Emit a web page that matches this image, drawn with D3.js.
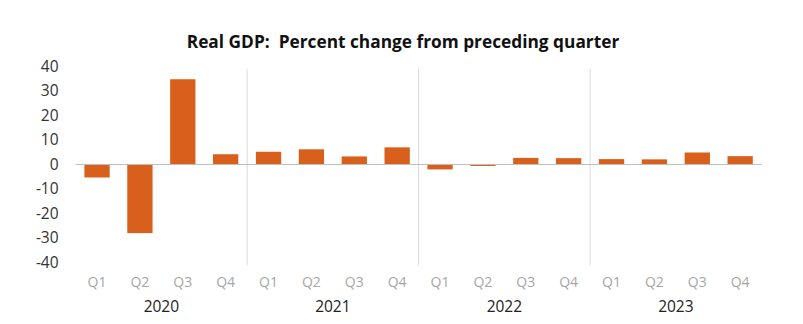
<!DOCTYPE html>
<html>
<head>
<meta charset="utf-8">
<script src="https://cdn.jsdelivr.net/npm/d3@7"></script>
<style>
  body { margin: 0; background: #fff; }
  svg { display: block; font-family: "Open Sans", "Liberation Sans", sans-serif; }
</style>
</head>
<body>
<svg id="chart"></svg>
<script>
var width = 803;
var height = 324;

var years = ['2020', '2021', '2022', '2023'];
var quarters = ['Q1', 'Q2', 'Q3', 'Q4'];
var values = [
  -5.3, -28.0, 34.8, 4.2,
  5.2, 6.2, 3.3, 7.0,
  -2.0, -0.6, 2.7, 2.6,
  2.2, 2.1, 4.9, 3.4
];
var yTicks = [-40, -30, -20, -10, 0, 10, 20, 30, 40];

var barColor = '#d9601c';

var data = values.map(function(v, i){
  return { key: years[Math.floor(i / 4)] + '-' + quarters[i % 4], year: years[Math.floor(i / 4)], q: quarters[i % 4], value: v };
});

var plotLeft = 75.6, plotRight = 761.6, plotTop = 66.5, plotBottom = 262.5;

var svg = d3.select('#chart')
  .attr('width', width)
  .attr('height', height);

var xScale = d3.scaleBand()
  .domain(data.map(d => d.key))
  .range([plotLeft, plotRight])
  .paddingInner(0.41)
  .paddingOuter(0.205);

var yearScale = d3.scaleBand()
  .domain(years)
  .range([plotLeft, plotRight]);

var yScale = d3.scaleLinear()
  .domain([-40, 40])
  .range([plotBottom, plotTop]);

// year separators
svg.append('g')
  .selectAll('line')
  .data(years.slice(1))
  .join('line')
    .attr('x1', d => yearScale(d))
    .attr('x2', d => yearScale(d))
    .attr('y1', plotTop + 2)
    .attr('y2', plotBottom + 3)
    .attr('stroke', '#d9d9d9')
    .attr('stroke-width', 1);

// bars
svg.append('g')
  .selectAll('rect')
  .data(data)
  .join('rect')
    .attr('x', d => xScale(d.key))
    .attr('width', xScale.bandwidth())
    .attr('y', d => yScale(Math.max(0, d.value)))
    .attr('height', d => Math.abs(yScale(d.value) - yScale(0)))
    .attr('fill', barColor);

// zero line
svg.append('line')
  .attr('x1', plotLeft)
  .attr('x2', plotRight)
  .attr('y1', yScale(0))
  .attr('y2', yScale(0))
  .attr('stroke', '#bfbfbf')
  .attr('stroke-width', 1.2);

// y axis labels (plain hyphen for negatives, like the original)
var yAxis = svg.append('g')
  .attr('transform', 'translate(' + (plotLeft - 17) + ',0)')
  .call(d3.axisLeft(yScale).tickValues(yTicks).tickSize(0).tickPadding(0)
          .tickFormat(d => String(d)));
yAxis.select('.domain').remove();
yAxis.selectAll('text')
  .attr('fill', '#333')
  .style('font-size', '15.5px')
  .style('font-family', '"Open Sans", sans-serif');

// quarter labels
var xAxis = svg.append('g')
  .attr('transform', 'translate(0,' + (plotBottom + 12) + ')')
  .call(d3.axisBottom(xScale).tickSize(0).tickFormat(d => d.split('-')[1]));
xAxis.select('.domain').remove();
xAxis.selectAll('text')
  .attr('fill', '#a6a6a6')
  .style('font-size', '14px')
  .style('font-family', '"Open Sans", sans-serif');

// year labels
var yearAxis = svg.append('g')
  .attr('transform', 'translate(0,' + (plotBottom + 35) + ')')
  .call(d3.axisBottom(yearScale).tickSize(0));
yearAxis.select('.domain').remove();
yearAxis.selectAll('text')
  .attr('fill', '#222')
  .style('font-size', '15.5px')
  .style('font-family', '"Open Sans", sans-serif');

// title
svg.append('text')
  .attr('x', 403)
  .attr('y', 48)
  .style('text-anchor', 'middle')
  .style('font-size', '17.3px')
  .style('font-weight', 'bold')
  .style('white-space', 'pre')
  .attr('fill', '#111')
  .text('Real GDP:  Percent change from preceding quarter');
</script>
</body>
</html>
